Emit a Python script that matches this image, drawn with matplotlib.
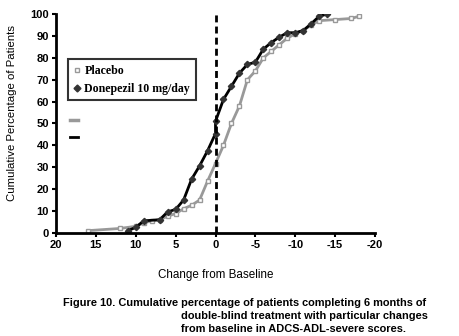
import matplotlib.pyplot as plt
from matplotlib.lines import Line2D

# change from baseline (x) and cumulative % of patients (y)
placebo_x = [16, 12, 10, 9, 8, 7, 6, 5, 4, 3, 2, 1, 0, -1, -2, -3, -4, -5, -6, -7, -8, -9, -10, -11, -12, -13, -15, -17, -18]
placebo_y = [1, 2, 3, 4.5, 5.5, 6, 7.6, 8.8, 11, 12.6, 15, 23.6, 31.7, 40, 50, 58, 70, 74, 80, 83, 86, 89, 91, 92.5, 95, 97, 97.5, 98, 99]

donep_x = [11, 10, 9, 7, 6, 5, 4, 3, 2, 1, 0, 0, -1, -2, -3, -4, -5, -6, -7, -8, -9, -10, -11, -12, -13, -14]
donep_y = [1, 2.5, 5.5, 6, 9.6, 10.7, 15, 24.5, 30.6, 37.5, 45.4, 51, 61, 67, 73, 77, 78, 84, 87, 89.5, 91.5, 91.5, 92.5, 95.6, 99, 100]

plt.rcParams['font.family'] = ['Liberation Sans', 'DejaVu Sans']
plt.rcParams['axes.unicode_minus'] = False

fig = plt.figure(figsize=(4.59, 3.36), dpi=100)
ax = fig.add_axes([0.122, 0.307, 0.695, 0.651])

ax.plot(placebo_x, placebo_y, color='#999999', lw=2, marker='s', ms=3.2,
        mfc='white', mec='#999999', mew=1, label='Placebo')
ax.plot(donep_x, donep_y, color='black', lw=2, marker='D', ms=3.2,
        mfc='#333333', mec='#333333', label='Donepezil 10 mg/day')
ax.axvline(0, color='black', lw=2, ls=(0, (2.5, 1.5)))

ax.set_xlim(20, -20)
ax.set_ylim(0, 100)
ax.set_xticks(range(20, -21, -5))
ax.set_yticks(range(0, 101, 10))
for s in ['top', 'right']:
    ax.spines[s].set_visible(False)
for s in ['left', 'bottom']:
    ax.spines[s].set_linewidth(2)
ax.tick_params(width=1.5, length=3, labelsize=8, pad=2)
for lab in ax.get_xticklabels() + ax.get_yticklabels():
    lab.set_fontweight('bold')

ax.set_xlabel('Change from Baseline', fontsize=8.4, labelpad=14)
ax.set_ylabel('Cumulative Percentage of Patients', fontsize=8.2)
ax.yaxis.set_label_coords(-0.122, 0.55)

handles = [Line2D([], [], ls='none', marker='s', ms=3, mfc='white', mec='#999999'),
           Line2D([], [], ls='none', marker='D', ms=3.5, mfc='#333333', mec='#333333')]
leg = ax.legend(handles, ['Placebo', 'Donepezil 10 mg/day'], loc='upper left',
                bbox_to_anchor=(0.02, 0.82), frameon=True, fancybox=False,
                handlelength=0.6, handletextpad=0.3, borderpad=0.45, labelspacing=0.5,
                prop={'family': 'Liberation Serif', 'weight': 'bold', 'size': 8.6})
leg.get_frame().set_edgecolor('black')
leg.get_frame().set_linewidth(1.5)

# stray line samples under the legend
ax.plot([0.045, 0.07], [0.515, 0.515], transform=ax.transAxes, color='#999999', lw=2.5, clip_on=False)
ax.plot([0.045, 0.07], [0.437, 0.437], transform=ax.transAxes, color='black', lw=2, clip_on=False)

fig.text(0.138, 0.09, 'Figure 10. Cumulative percentage of patients completing 6 months of',
         fontsize=7.9, fontweight='bold', va='baseline')
fig.text(0.394, 0.052, 'double-blind treatment with particular changes',
         fontsize=7.9, fontweight='bold', va='baseline')
fig.text(0.394, 0.013, 'from baseline in ADCS-ADL-severe scores.',
         fontsize=7.9, fontweight='bold', va='baseline')

fig.savefig('out.png', dpi=100)
